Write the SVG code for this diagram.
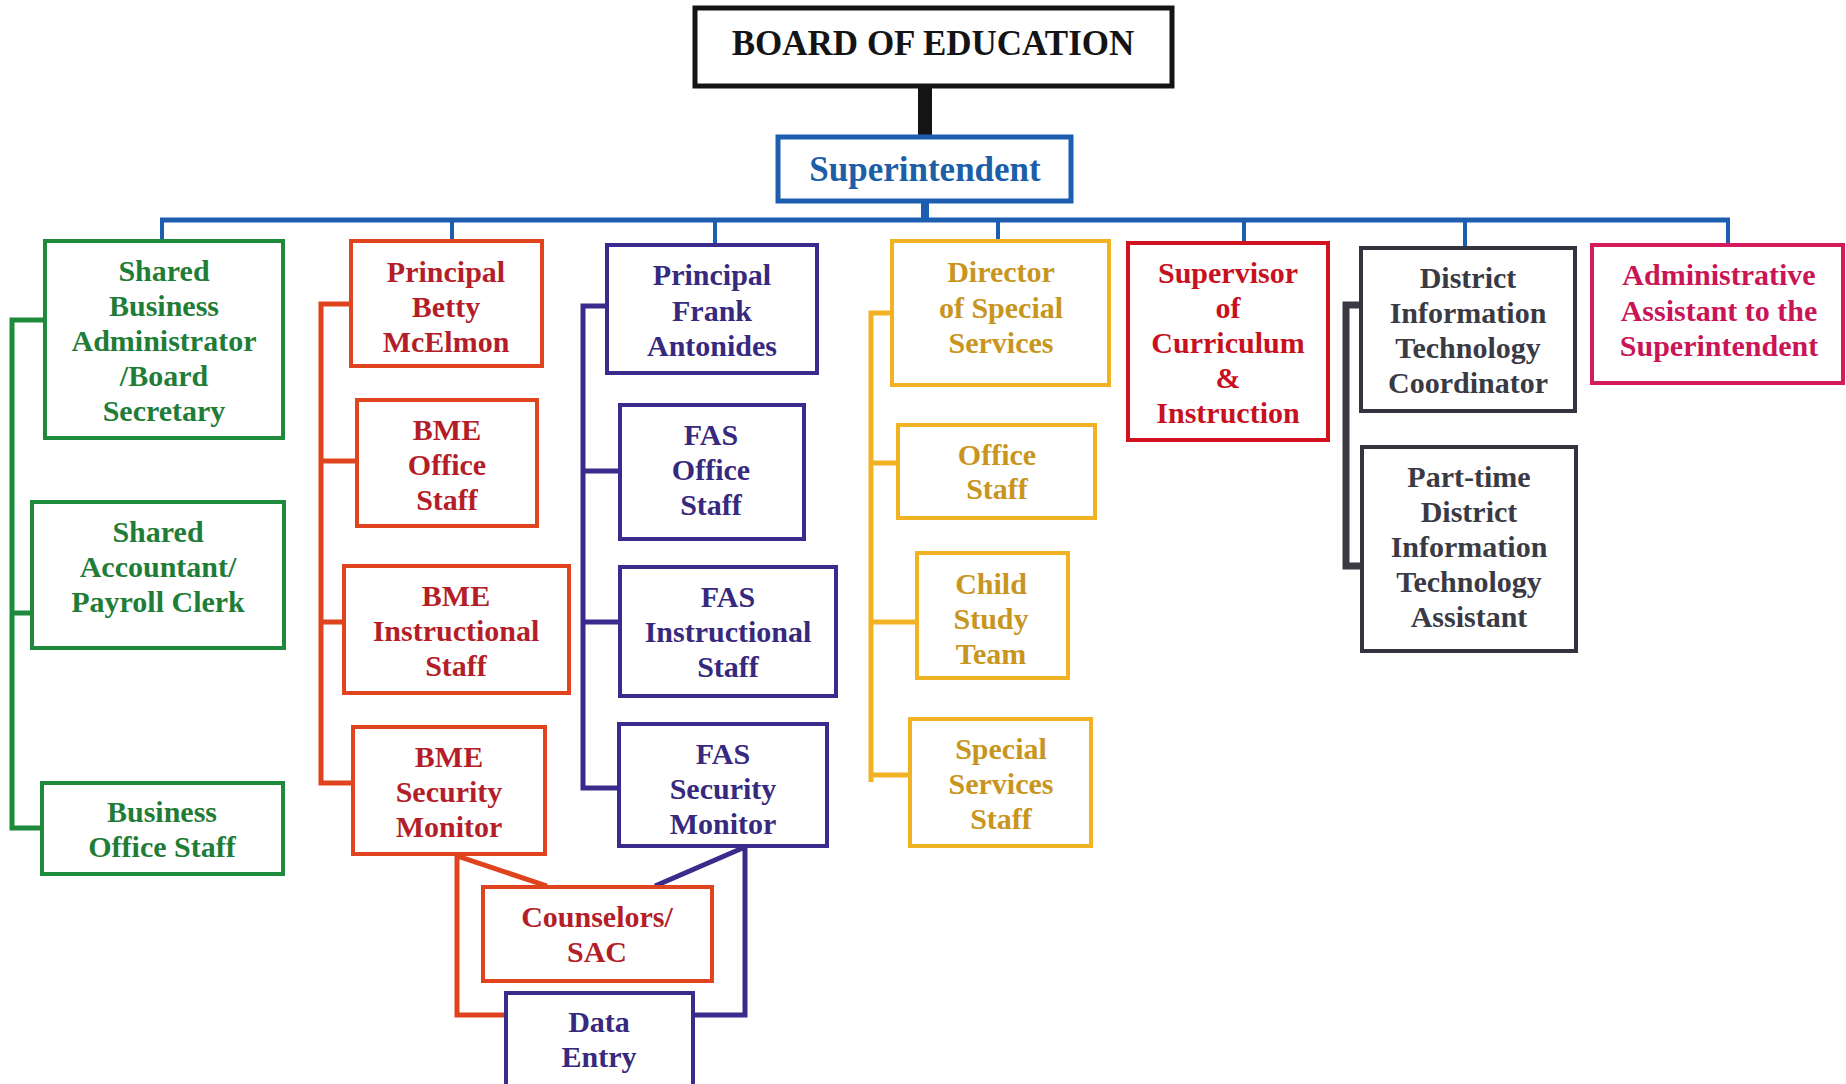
<svg xmlns="http://www.w3.org/2000/svg" width="1846" height="1084" viewBox="0 0 1846 1084">
  <style>
    text { font-family: "Liberation Serif", "Times New Roman", serif; font-weight: bold; font-size: 30px; text-anchor: middle; }
    rect { fill: #ffffff; stroke-width: 4; }
    .line { fill: none; stroke-width: 5; stroke-linejoin: miter; stroke-linecap: butt; }
    .board rect { stroke: #141414; stroke-width: 5; }
    .board text { fill: #141414; font-size: 35px; }
    .supt rect { stroke: #1d5eb0; stroke-width: 5; }
    .supt text { fill: #1d5ea8; font-size: 35px; }
    .green rect { stroke: #1e8a3c; }
    .green text { fill: #1f7d37; }
    .bme rect { stroke: #e0441e; }
    .bme text { fill: #b41e28; }
    .fas rect { stroke: #3a2b8c; }
    .fas text { fill: #36297e; }
    .sped rect { stroke: #f1b324; }
    .sped text { fill: #c8951e; }
    .curr rect { stroke: #d2111f; }
    .curr text { fill: #c8111f; }
    .tech rect { stroke: #34343e; }
    .tech text { fill: #3a3a44; }
    .admin rect { stroke: #d41c5c; }
    .admin text { fill: #c91556; }
    .c-black { stroke: #141414; }
    .c-blue { stroke: #1d5eb0; }
    .c-green { stroke: #1e8a3c; }
    .c-bme { stroke: #e0441e; }
    .c-fas { stroke: #3a2b8c; }
    .c-sped { stroke: #f1b324; }
    .c-tech { stroke: #3a3a42; }
  </style>

  <rect x="0" y="0" width="1846" height="1084" style="fill:#ffffff;stroke:none"/>

  <!-- connectors -->
  <g id="connectors">
    <!-- board to superintendent -->
    <line class="line c-black" x1="925" y1="86" x2="925" y2="137" style="stroke-width:14"/>
    <!-- superintendent to bus -->
    <line class="line c-blue" x1="925" y1="201" x2="925" y2="220" style="stroke-width:8"/>
    <!-- main bus -->
    <line class="line c-blue" x1="160" y1="220" x2="1730" y2="220"/>
    <line class="line c-blue" x1="162" y1="220" x2="162" y2="242" style="stroke-width:4"/>
    <line class="line c-blue" x1="452" y1="220" x2="452" y2="242" style="stroke-width:4"/>
    <line class="line c-blue" x1="715" y1="220" x2="715" y2="246" style="stroke-width:4"/>
    <line class="line c-blue" x1="998" y1="220" x2="998" y2="242" style="stroke-width:4"/>
    <line class="line c-blue" x1="1244" y1="220" x2="1244" y2="244" style="stroke-width:4"/>
    <line class="line c-blue" x1="1465" y1="220" x2="1465" y2="249" style="stroke-width:4"/>
    <line class="line c-blue" x1="1728" y1="220" x2="1728" y2="246" style="stroke-width:4"/>

    <!-- business office bracket -->
    <path class="line c-green" d="M45 320 H12 V828 H42 M12 613 H32"/>
    <!-- BME bracket -->
    <path class="line c-bme" d="M351 304 H321 V783 H352 M321 461 H357 M321 622 H344"/>
    <!-- FAS bracket -->
    <path class="line c-fas" d="M607 306 H583 V788 H619 M583 471 H620 M583 622 H620"/>
    <!-- special services bracket -->
    <path class="line c-sped" d="M892 313 H871 V782 M871 463 H898 M871 622 H917 M871 775 H910"/>
    <!-- technology bracket -->
    <path class="line c-tech" d="M1361 305 H1346 V566 H1362" style="stroke-width:7"/>

    <!-- shared counselors and data entry -->
    <path class="line c-bme" d="M547 886 L457 856 V1015 H506"/>
    <path class="line c-fas" d="M655 886 L745 847 V1015 H693"/>
  </g>

  <!-- board -->
  <g id="board" class="board">
    <rect x="695" y="8" width="477" height="78"/>
    <text x="933" y="55">BOARD OF EDUCATION</text>
  </g>

  <g id="superintendent" class="supt">
    <rect x="778" y="137" width="293" height="64"/>
    <text x="925" y="181">Superintendent</text>
  </g>

  <!-- business office -->
  <g id="business-administrator" class="green">
    <rect x="45" y="241" width="238" height="197"/>
    <text x="164"><tspan x="164" y="281">Shared</tspan><tspan x="164" y="316">Business</tspan><tspan x="164" y="351">Administrator</tspan><tspan x="164" y="386">/Board</tspan><tspan x="164" y="421">Secretary</tspan></text>
  </g>
  <g id="accountant" class="green">
    <rect x="32" y="502" width="252" height="146"/>
    <text x="158"><tspan x="158" y="542">Shared</tspan><tspan x="158" y="577">Accountant/</tspan><tspan x="158" y="612">Payroll Clerk</tspan></text>
  </g>
  <g id="business-office-staff" class="green">
    <rect x="42" y="783" width="241" height="91"/>
    <text x="162"><tspan x="162" y="822">Business</tspan><tspan x="162" y="857">Office Staff</tspan></text>
  </g>

  <!-- BME -->
  <g id="principal-bme" class="bme">
    <rect x="351" y="241" width="191" height="125"/>
    <text x="446"><tspan x="446" y="282">Principal</tspan><tspan x="446" y="317">Betty</tspan><tspan x="446" y="352">McElmon</tspan></text>
  </g>
  <g id="bme-office" class="bme">
    <rect x="357" y="400" width="180" height="126"/>
    <text x="447"><tspan x="447" y="440">BME</tspan><tspan x="447" y="475">Office</tspan><tspan x="447" y="510">Staff</tspan></text>
  </g>
  <g id="bme-instructional" class="bme">
    <rect x="344" y="566" width="225" height="127"/>
    <text x="456"><tspan x="456" y="606">BME</tspan><tspan x="456" y="641">Instructional</tspan><tspan x="456" y="676">Staff</tspan></text>
  </g>
  <g id="bme-security" class="bme">
    <rect x="353" y="727" width="192" height="127"/>
    <text x="449"><tspan x="449" y="767">BME</tspan><tspan x="449" y="802">Security</tspan><tspan x="449" y="837">Monitor</tspan></text>
  </g>
  <g id="counselors" class="bme">
    <rect x="483" y="887" width="229" height="94"/>
    <text x="597"><tspan x="597" y="927">Counselors/</tspan><tspan x="597" y="962">SAC</tspan></text>
  </g>

  <!-- FAS -->
  <g id="principal-fas" class="fas">
    <rect x="607" y="245" width="210" height="128"/>
    <text x="712"><tspan x="712" y="285">Principal</tspan><tspan x="712" y="321">Frank</tspan><tspan x="712" y="356">Antonides</tspan></text>
  </g>
  <g id="fas-office" class="fas">
    <rect x="620" y="405" width="184" height="134"/>
    <text x="711"><tspan x="711" y="445">FAS</tspan><tspan x="711" y="480">Office</tspan><tspan x="711" y="515">Staff</tspan></text>
  </g>
  <g id="fas-instructional" class="fas">
    <rect x="620" y="567" width="216" height="129"/>
    <text x="728"><tspan x="728" y="607">FAS</tspan><tspan x="728" y="642">Instructional</tspan><tspan x="728" y="677">Staff</tspan></text>
  </g>
  <g id="fas-security" class="fas">
    <rect x="619" y="724" width="208" height="122"/>
    <text x="723"><tspan x="723" y="764">FAS</tspan><tspan x="723" y="799">Security</tspan><tspan x="723" y="834">Monitor</tspan></text>
  </g>
  <g id="data-entry" class="fas">
    <rect x="506" y="993" width="187" height="96"/>
    <text x="599"><tspan x="599" y="1032">Data</tspan><tspan x="599" y="1067">Entry</tspan></text>
  </g>

  <!-- special services -->
  <g id="director-special-services" class="sped">
    <rect x="892" y="241" width="217" height="144"/>
    <text x="1001"><tspan x="1001" y="282">Director</tspan><tspan x="1001" y="318">of Special</tspan><tspan x="1001" y="353">Services</tspan></text>
  </g>
  <g id="sped-office" class="sped">
    <rect x="898" y="425" width="197" height="93"/>
    <text x="997"><tspan x="997" y="465">Office</tspan><tspan x="997" y="499">Staff</tspan></text>
  </g>
  <g id="child-study-team" class="sped">
    <rect x="917" y="553" width="151" height="125"/>
    <text x="991"><tspan x="991" y="594">Child</tspan><tspan x="991" y="629">Study</tspan><tspan x="991" y="664">Team</tspan></text>
  </g>
  <g id="sped-staff" class="sped">
    <rect x="910" y="719" width="181" height="127"/>
    <text x="1001"><tspan x="1001" y="759">Special</tspan><tspan x="1001" y="794">Services</tspan><tspan x="1001" y="829">Staff</tspan></text>
  </g>

  <!-- curriculum -->
  <g id="curriculum-supervisor" class="curr">
    <rect x="1128" y="243" width="200" height="197"/>
    <text x="1228"><tspan x="1228" y="283">Supervisor</tspan><tspan x="1228" y="318">of</tspan><tspan x="1228" y="353">Curriculum</tspan><tspan x="1228" y="388">&amp;</tspan><tspan x="1228" y="423">Instruction</tspan></text>
  </g>

  <!-- technology -->
  <g id="it-coordinator" class="tech">
    <rect x="1361" y="248" width="214" height="163"/>
    <text x="1468"><tspan x="1468" y="288">District</tspan><tspan x="1468" y="323">Information</tspan><tspan x="1468" y="358">Technology</tspan><tspan x="1468" y="393">Coordinator</tspan></text>
  </g>
  <g id="it-assistant" class="tech">
    <rect x="1362" y="447" width="214" height="204"/>
    <text x="1469"><tspan x="1469" y="487">Part-time</tspan><tspan x="1469" y="522">District</tspan><tspan x="1469" y="557">Information</tspan><tspan x="1469" y="592">Technology</tspan><tspan x="1469" y="627">Assistant</tspan></text>
  </g>

  <!-- administrative assistant -->
  <g id="admin-assistant" class="admin">
    <rect x="1592" y="245" width="251" height="138"/>
    <text x="1719"><tspan x="1719" y="285">Administrative</tspan><tspan x="1719" y="321">Assistant to the</tspan><tspan x="1719" y="356">Superintendent</tspan></text>
  </g>
</svg>
